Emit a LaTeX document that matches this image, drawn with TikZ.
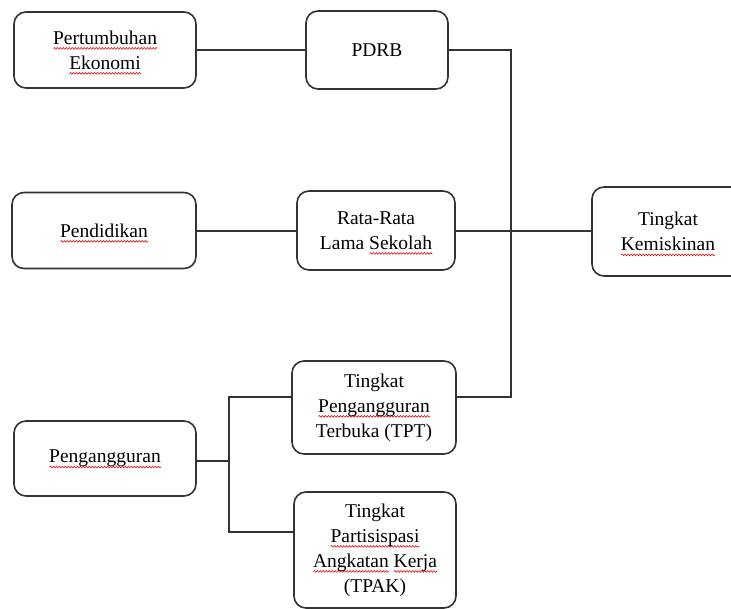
\documentclass[tikz,border=0pt]{standalone}
\usepackage{fontspec}
\setmainfont{Liberation Serif}
\usetikzlibrary{decorations.pathmorphing}
\newsavebox\sqbox
\newlength\sqw
\newcommand\sq[1]{\sbox\sqbox{#1}\setlength\sqw{\wd\sqbox}\rlap{\smash{\lower4.2pt\hbox{\tikz[baseline=0pt,x=1pt,y=1pt]\draw[sharp corners, red!90!black, line width=0.55pt, decorate, decoration={snake, amplitude=0.9pt, segment length=3pt}] (0,0) -- (\sqw,0);}}}\usebox\sqbox}
\begin{document}
\begin{tikzpicture}[x=1pt,y=-1pt,
  box/.style={draw=black!80, line width=1.6pt, rounded corners=12pt, align=center,
    font=\fontsize{19.5}{25}\selectfont, inner sep=0pt},
  link/.style={draw=black!80, line width=1.6pt}]
\useasboundingbox (0,0) rectangle (731,608);
\node[box, minimum width=182, minimum height=76] (pe) at (105,50) {\sq{Pertumbuhan}\\\sq{Ekonomi}};
\node[box, minimum width=142, minimum height=78] (pdrb) at (377,50) {PDRB};
\node[box, minimum width=184, minimum height=76] (pend) at (104,230.5) {\sq{Pendidikan}};
\node[box, minimum width=158, minimum height=79] (rls) at (376,230.5) {Rata-Rata\\Lama \sq{Sekolah}};
\node[box, minimum width=152, minimum height=89] (tk) at (668,231.5) {Tingkat\\\sq{Kemiskinan}};
\node[box, minimum width=164, minimum height=93] (tpt) at (374,407.5) {Tingkat\\\sq{Pengangguran}\\Terbuka (TPT)};
\node[box, minimum width=162, minimum height=116] (tpak) at (375,550) {Tingkat\\\sq{Partisispasi}\\\sq{Angkatan} \sq{Kerja}\\(TPAK)};
\node[box, minimum width=182, minimum height=75] (peng) at (105,458.5) {\sq{Pengangguran}};
\coordinate (c1) at (0,50);
\coordinate (c2) at (0,231);
\coordinate (j1) at (511,50);
\coordinate (j2) at (511,397);
\coordinate (b0) at (229,461);
\coordinate (b1) at (229,397);
\coordinate (b2) at (229,532);
\draw[link] (pe.east |- c1) -- (pdrb.west |- c1);
\draw[link] (pdrb.east |- c1) -- (j1) -- (j2) -- (j2 -| tpt.east);
\draw[link] (pend.east |- c2) -- (rls.west |- c2);
\draw[link] (rls.east |- c2) -- (tk.west |- c2);
\draw[link] (peng.east |- b0) -- (b0);
\draw[link] (b1 -| tpt.west) -- (b1) -- (b2) -- (b2 -| tpak.west);
\end{tikzpicture}
\end{document}
